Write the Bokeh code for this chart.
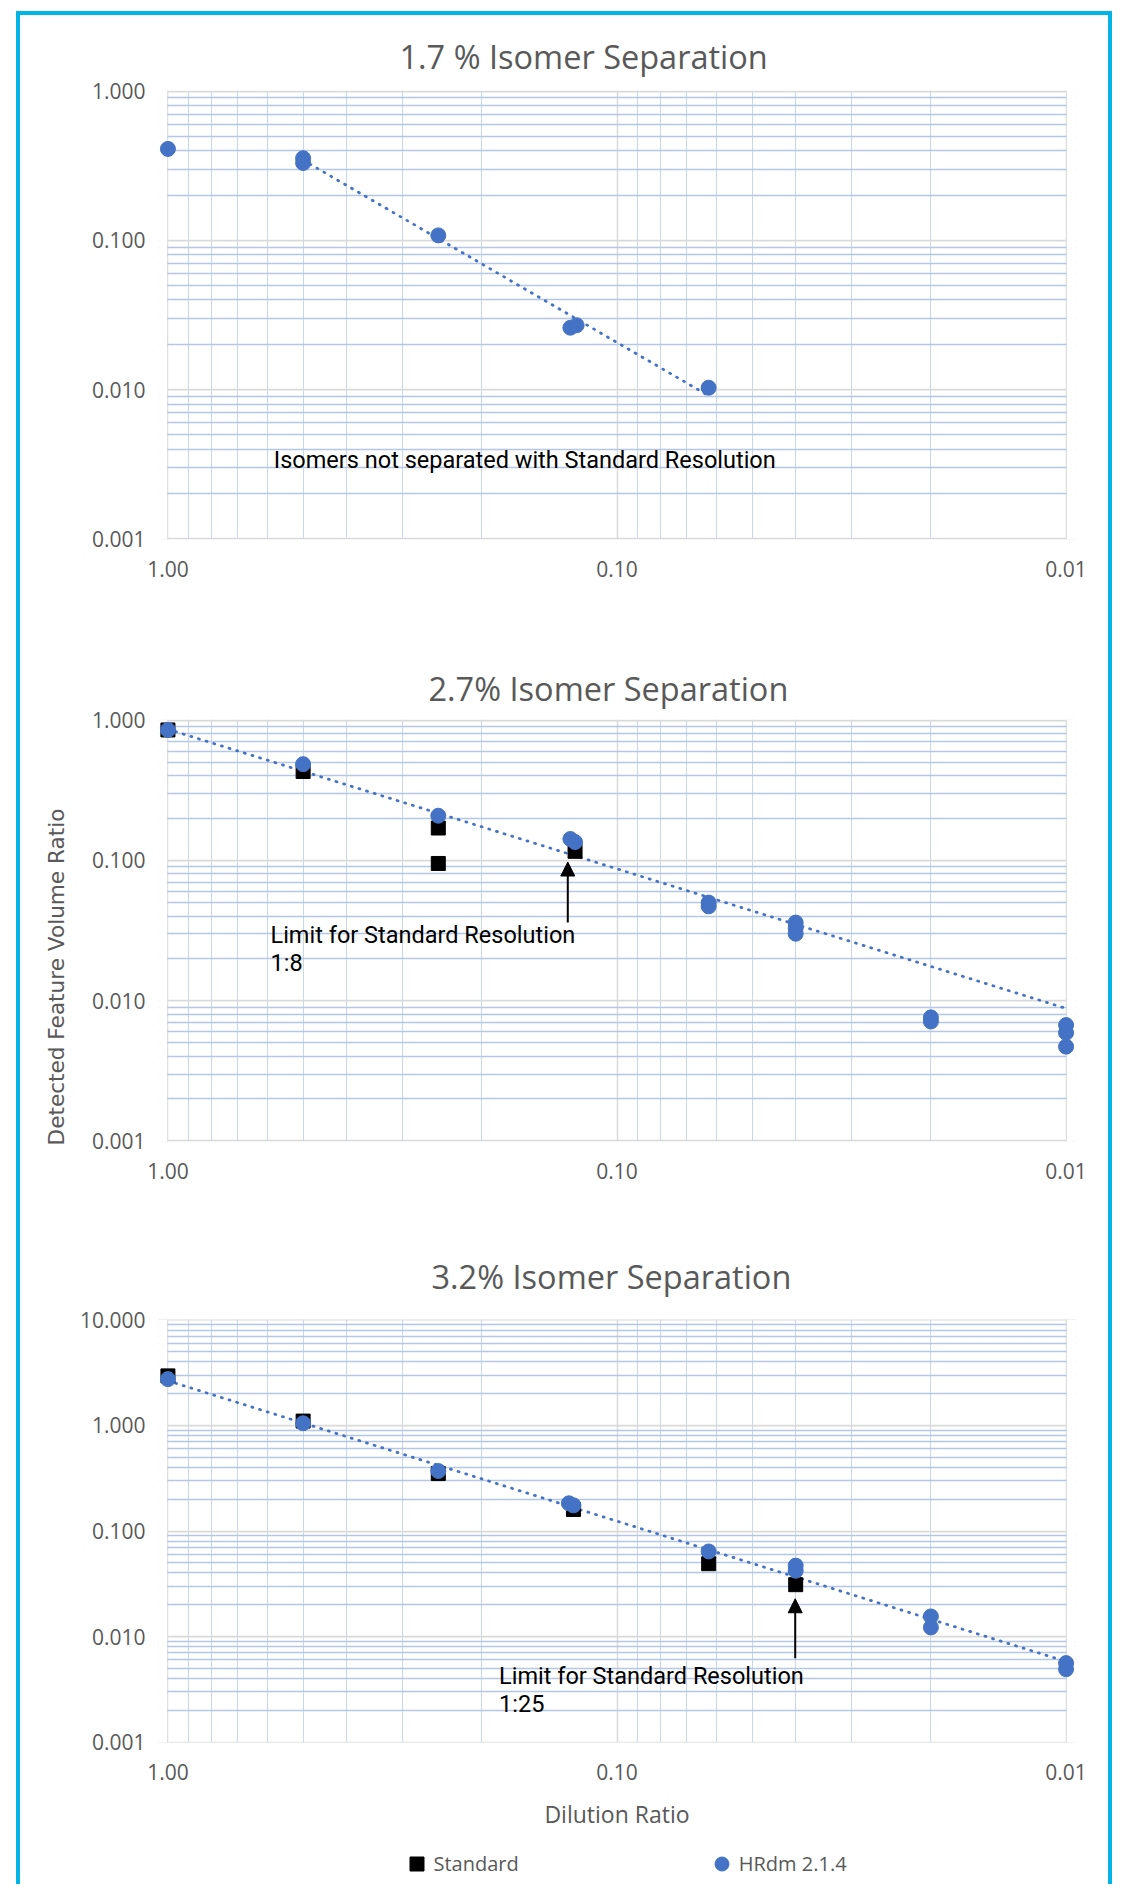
import numpy as np
from bokeh.plotting import figure
from bokeh.models import (Range1d, FixedTicker, PrintfTickFormatter, BoxAnnotation,
                          Arrow, NormalHead, Legend, LegendItem, Title)
from bokeh.layouts import column
from bokeh.core.properties import value
from bokeh.embed import file_html
from bokeh.resources import INLINE

# ---------------- data ----------------
titles = ["1.7 % Isomer Separation", "2.7% Isomer Separation", "3.2% Isomer Separation"]
x_major_ticks = [1.0, 0.1, 0.01]
y_major_ticks_12 = [0.001, 0.01, 0.1, 1.0]
y_major_ticks_3 = [0.001, 0.01, 0.1, 1.0, 10.0]

# chart 1 : 1.7 %
c1_hrdm_x = [1.0, 0.5, 0.5, 0.25, 0.127, 0.123, 0.0625]
c1_hrdm_y = [0.41, 0.355, 0.33, 0.108, 0.026, 0.027, 0.0103]
c1_trend_x = [0.5, 0.0625]
c1_trend_y = [0.345, 0.0091]
c1_note_x = [0.581]
c1_note_y = [0.00337]
c1_note_text = ["Isomers not separated with Standard Resolution"]

# chart 2 : 2.7 %
c2_std_x = [1.0, 0.5, 0.25, 0.25, 0.124]
c2_std_y = [0.85, 0.43, 0.17, 0.095, 0.116]
c2_hrdm_x = [1.0, 0.5, 0.25, 0.127, 0.124, 0.0625, 0.0625, 0.04, 0.04, 0.04,
             0.02, 0.02, 0.01, 0.01, 0.01]
c2_hrdm_y = [0.85, 0.485, 0.208, 0.142, 0.135, 0.050, 0.047, 0.036, 0.033, 0.030,
             0.0076, 0.0071, 0.0067, 0.0059, 0.0047]
c2_trend_x = [1.0, 0.01]
c2_trend_y = [0.86, 0.0088]
c2_note_x = [0.591, 0.591]
c2_note_y = [0.0296, 0.01845]
c2_note_text = ["Limit for Standard Resolution", "1:8"]
c2_arrow = dict(x=0.1287, y_from=0.036, y_to=0.0973)

# chart 3 : 3.2 %
c3_std_x = [1.0, 0.5, 0.25, 0.125, 0.0625, 0.04]
c3_std_y = [2.95, 1.1, 0.35, 0.16, 0.049, 0.031]
c3_hrdm_x = [1.0, 0.5, 0.25, 0.128, 0.125, 0.0625, 0.04, 0.04, 0.02, 0.02, 0.01, 0.01]
c3_hrdm_y = [2.75, 1.05, 0.37, 0.183, 0.175, 0.064, 0.047, 0.042, 0.0155, 0.0122,
             0.0056, 0.0049]
c3_trend_x = [1.0, 0.01]
c3_trend_y = [2.65, 0.0058]
c3_note_x = [0.1831, 0.1831]
c3_note_y = [0.00427, 0.00228]
c3_note_text = ["Limit for Standard Resolution", "1:25"]
c3_arrow = dict(x=0.0401, y_from=0.00622, y_to=0.0228)

legend_labels = ["Standard", "HRdm 2.1.4"]
x_axis_title = "Dilution Ratio"
y_axis_title = "Detected Feature Volume Ratio"

# ---------------- styling ----------------
BLUE = "#4472C4"
TXT = "#595959"
CYAN = "#00B4E6"
PAD = 0.021      # decades of extra room left/right so edge markers are not cut
EPS = 0.004
COV = 0.0017
FIG_W = 1088     # figures span x = 20 .. 1108 on the page
B_LEFT, B_RIGHT = 138, 33


def minor(lo, hi):
    return [m * 10.0 ** d for d in range(lo, hi) for m in range(2, 10)]


def make_chart(title, y_ticks, fig_h, b_top, b_bottom, title_offset, title_standoff):
    lo = -3
    hi = int(round(np.log10(y_ticks[-1])))
    p = figure(width=FIG_W, height=fig_h,
               x_axis_type="log", y_axis_type="log",
               x_range=Range1d(10 ** PAD, 10 ** (-2 - PAD)),
               y_range=Range1d(10 ** (lo - EPS), 10 ** (hi + EPS)),
               output_backend="svg", toolbar_location=None,
               min_border_left=B_LEFT, min_border_right=B_RIGHT,
               min_border_top=b_top, min_border_bottom=b_bottom)
    p.outline_line_color = None
    p.background_fill_color = "white"
    p.border_fill_color = "white"

    p.xaxis.ticker = FixedTicker(ticks=x_major_ticks, minor_ticks=minor(-2, 0))
    p.yaxis.ticker = FixedTicker(ticks=y_ticks, minor_ticks=minor(lo, hi))
    p.xaxis.formatter = PrintfTickFormatter(format="%.2f")
    p.yaxis.formatter = PrintfTickFormatter(format="%.3f")
    for ax in (p.xaxis[0], p.yaxis[0]):
        ax.axis_line_color = None
        ax.major_tick_line_color = None
        ax.minor_tick_line_color = None
        ax.major_tick_in = 0
        ax.major_tick_out = 0
        ax.minor_tick_in = 0
        ax.minor_tick_out = 0
        ax.major_label_text_font = "Open Sans"
        ax.major_label_text_font_size = "21px"
        ax.major_label_text_color = TXT
    p.yaxis.major_label_standoff = 13
    p.xaxis.major_label_standoff = 21

    p.xgrid.grid_line_color = "#D9D9D9"
    p.xgrid.grid_line_width = 1.5
    p.xgrid.minor_grid_line_color = "#C9D7EE"
    p.xgrid.minor_grid_line_width = 1
    p.ygrid.grid_line_color = "#D9D9D9"
    p.ygrid.grid_line_width = 1.75
    p.ygrid.minor_grid_line_color = "#B4C7E7"
    p.ygrid.minor_grid_line_width = 1.5

    for l, r in ((10 ** PAD, 10 ** COV), (10 ** (-2 - COV), 10 ** (-2 - PAD))):
        p.add_layout(BoxAnnotation(left=l, right=r, fill_color="white", fill_alpha=1.0,
                                   line_color=None, level="underlay"))

    p.title.text = title
    p.title.align = "left"
    p.title.offset = title_offset
    p.title.standoff = title_standoff
    p.title.text_font = "Open Sans"
    p.title.text_font_size = "32.5px"
    p.title.text_font_style = "normal"
    p.title.text_color = TXT
    return p


def add_trend(p, xs, ys):
    p.line(xs, ys, line_color=BLUE, line_width=2.8, line_dash="1 7", line_cap="round")


def add_notes(p, xs, ys, texts):
    p.text(x=xs, y=ys, text=texts, text_font=value("Roboto"), text_font_size="23.5px",
           text_color="black", text_baseline="middle", text_align="left")


def add_arrow(p, a):
    p.add_layout(Arrow(end=NormalHead(size=14, fill_color="black", line_color="black", line_width=1),
                       x_start=a["x"], y_start=a["y_from"], x_end=a["x"], y_end=a["y_to"],
                       line_color="black", line_width=2))


# ---- chart 1  (page y 15..640, frame 90..539)
p1 = make_chart(titles[0], y_major_ticks_12, 625, 75, 101, 241, 24)
add_trend(p1, c1_trend_x, c1_trend_y)
p1.scatter(c1_hrdm_x, c1_hrdm_y, marker="circle", size=15, fill_color=BLUE, line_color=BLUE)
add_notes(p1, c1_note_x, c1_note_y, c1_note_text)

# ---- chart 2  (page y 640..1230, frame 719..1141)
p2 = make_chart(titles[1], y_major_ticks_12, 590, 79, 89, 270, 18)
add_trend(p2, c2_trend_x, c2_trend_y)
p2.scatter(c2_std_x, c2_std_y, marker="square", size=14, fill_color="black", line_color="black")
p2.scatter(c2_hrdm_x, c2_hrdm_y, marker="circle", size=15, fill_color=BLUE, line_color=BLUE)
add_notes(p2, c2_note_x, c2_note_y, c2_note_text)
add_arrow(p2, c2_arrow)
ytitle = Title(text=y_axis_title, align="left", offset=-4, standoff=40,
               text_font="DejaVu Sans", text_font_size="21.6px", text_font_style="normal",
               text_color=TXT)
p2.add_layout(ytitle, "left")

# ---- chart 3  (page y 1230..1840, frame 1317..1742)
p3 = make_chart(titles[2], y_major_ticks_3, 610, 87, 98, 273, 42)
add_trend(p3, c3_trend_x, c3_trend_y)
r_std = p3.scatter(c3_std_x, c3_std_y, marker="square", size=14, fill_color="black", line_color="black")
r_hr = p3.scatter(c3_hrdm_x, c3_hrdm_y, marker="circle", size=15, fill_color=BLUE, line_color=BLUE)
add_notes(p3, c3_note_x, c3_note_y, c3_note_text)
add_arrow(p3, c3_arrow)
p3.xaxis.axis_label = x_axis_title
p3.xaxis.axis_label_text_font = "Open Sans"
p3.xaxis.axis_label_text_font_size = "23px"
p3.xaxis.axis_label_text_font_style = "normal"
p3.xaxis.axis_label_text_color = TXT
p3.xaxis.axis_label_standoff = 15

# ---- legend strip (page y 1840..1888); its series are chart 3's, out of this strip's range
p4 = figure(width=FIG_W, height=48, x_range=Range1d(100, 101), y_range=Range1d(100, 101),
            output_backend="svg", toolbar_location=None,
            x_axis_location=None, y_axis_location=None,
            min_border_left=B_LEFT, min_border_right=B_RIGHT,
            min_border_top=0, min_border_bottom=0)
p4.grid.visible = False
p4.outline_line_color = None
p4.background_fill_color = "white"
p4.border_fill_color = "white"
lg_std = p4.scatter(c3_std_x, c3_std_y, marker="square", size=14, fill_color="black", line_color="black")
lg_hr = p4.scatter(c3_hrdm_x, c3_hrdm_y, marker="circle", size=15, fill_color=BLUE, line_color=BLUE)
LEG_W, LEG_H = 35, 35
legend = Legend(items=[LegendItem(label=legend_labels[0], renderers=[lg_std]),
                       LegendItem(label=legend_labels[1], renderers=[lg_hr])],
                orientation="horizontal",
                location=(398.5 - (20 + B_LEFT), 1888 - 1845.5 - LEG_H),
                spacing=185, glyph_width=LEG_W, glyph_height=LEG_H, label_standoff=-6,
                label_text_font="Open Sans", label_text_font_size="20px",
                label_text_color=TXT, border_line_color=None,
                background_fill_alpha=0, padding=0, margin=0)
p4.add_layout(legend, "center")

layout = column(p1, p2, p3, p4, margin=(15, 0, 0, 20),
                styles={"box-shadow": f"-4px -4px 0 0 {CYAN}, 4px -4px 0 0 {CYAN}"})

open("out.html", "w").write(file_html(layout, INLINE))
